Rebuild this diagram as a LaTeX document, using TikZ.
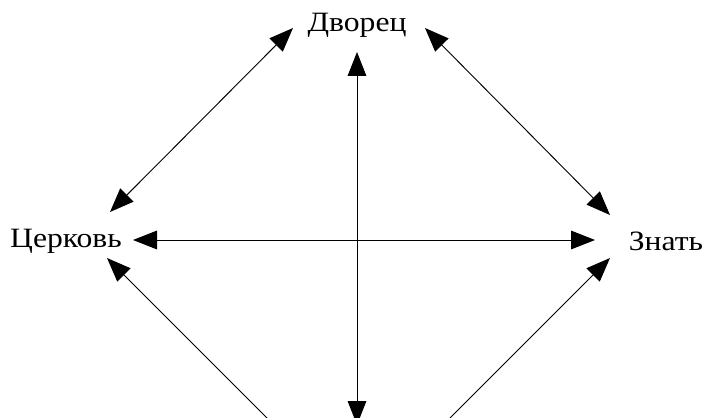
\documentclass[tikz,border=0pt]{standalone}
\usepackage{fontspec}
\setmainfont[FakeStretch=1.13]{Liberation Serif}
\usetikzlibrary{arrows.meta}

\begin{document}
\begin{tikzpicture}[x=0.75pt, y=-0.75pt,
    every node/.style={font=\fontsize{21}{24}\selectfont, inner sep=0pt},
    link/.style={line width=0.7pt,
      {Triangle[length=18pt,width=14pt]}-{Triangle[length=18pt,width=14pt]}}]
    \useasboundingbox (0,0) rectangle (705,417);
    \clip (0,0) rectangle (705,417);

    \node (palace) at (357,25) {Дворец};
    \node (church) at (66,241) {Церковь};
    \node (nobility) at (666,241) {Знать};
    \coordinate (people) at (357,480);

    \path[link]
    ([shift={(-64,3)}]palace.center) edge ([shift={(44,-29)}]church.center)
    ([shift={(68,3)}]palace.center) edge ([shift={(-56,-26)}]nobility.center)
    ([shift={(67,-1)}]church.center) edge ([shift={(-71,-1)}]nobility.center)
    ([shift={(0,27)}]palace.center) edge ([shift={(0,-55)}]people)
    ([shift={(41,17)}]church.center) edge ([shift={(-50,-22)}]people)
    ([shift={(-56,17)}]nobility.center) edge ([shift={(53,-22)}]people);
\end{tikzpicture}
\end{document}
